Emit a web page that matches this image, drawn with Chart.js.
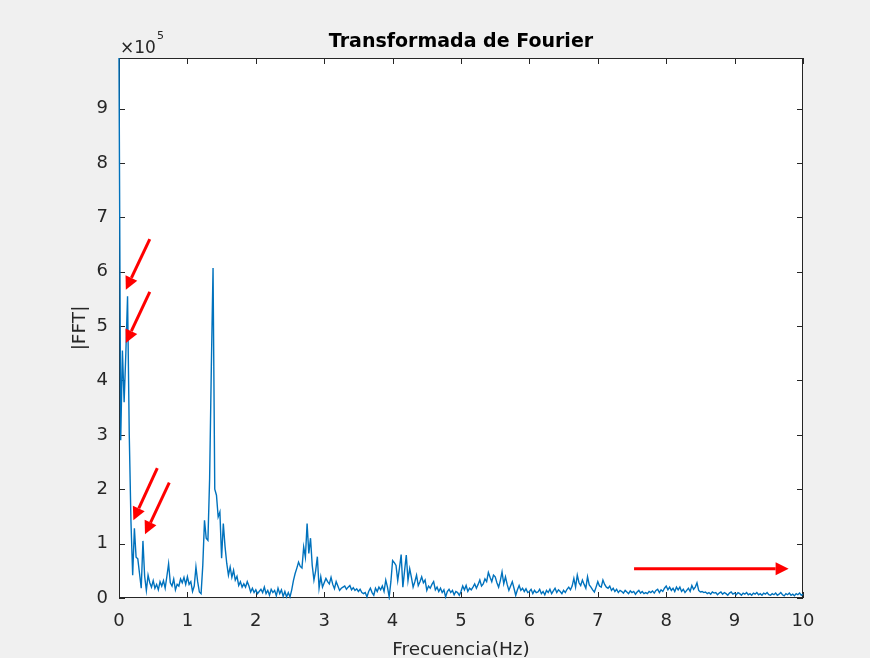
<!DOCTYPE html>
<html>
<head>
<meta charset="utf-8">
<title>Transformada de Fourier</title>
<script src="https://cdn.jsdelivr.net/npm/chart.js@4.4.1/dist/chart.umd.min.js"></script>
<style>
  html, body { margin: 0; padding: 0; background: #f0f0f0; }
  #wrap { width: 870px; height: 658px; }
</style>
</head>
<body>
<div id="wrap"><canvas id="fft" width="870" height="658"></canvas></div>
<script>
// frequency resolution of the spectrum (Hz per bin)
const freqStep = 0.025;

// |FFT| per bin, in units of 1e5
const fftMag = [
  9.93, 2.90, 4.55, 3.60, 4.50, 5.55, 3.00, 1.40, 0.42, 1.28, 0.75, 0.72, 0.45, 0.18, 1.05, 0.40, 0.14, 0.42, 0.28, 0.20,
  0.32, 0.18, 0.25, 0.15, 0.30, 0.22, 0.32, 0.18, 0.40, 0.63, 0.28, 0.22, 0.35, 0.15, 0.25, 0.22, 0.35, 0.28, 0.38, 0.25,
  0.39, 0.25, 0.30, 0.12, 0.22, 0.57, 0.30, 0.11, 0.08, 0.60, 1.43, 1.10, 1.06, 2.20, 4.25, 6.07, 2.00, 1.89, 1.49, 1.58,
  0.73, 1.37, 0.95, 0.64, 0.42, 0.57, 0.38, 0.51, 0.33, 0.40, 0.23, 0.30, 0.20, 0.26, 0.20, 0.30, 0.22, 0.11, 0.18, 0.10,
  0.15, 0.08, 0.12, 0.16, 0.10, 0.20, 0.08, 0.14, 0.05, 0.16, 0.10, 0.14, 0.04, 0.18, 0.08, 0.15, 0.03, 0.12, 0.02, 0.10,
  0.02, 0.15, 0.32, 0.45, 0.55, 0.66, 0.58, 0.55, 0.94, 0.75, 1.37, 0.82, 1.10, 0.60, 0.33, 0.50, 0.76, 0.18, 0.39, 0.20,
  0.28, 0.36, 0.30, 0.26, 0.38, 0.25, 0.17, 0.30, 0.22, 0.14, 0.18, 0.20, 0.22, 0.16, 0.20, 0.23, 0.15, 0.19, 0.14, 0.17,
  0.12, 0.16, 0.10, 0.08, 0.10, 0.02, 0.12, 0.18, 0.10, 0.05, 0.18, 0.12, 0.20, 0.15, 0.22, 0.12, 0.33, 0.20, 0.02, 0.30,
  0.69, 0.65, 0.60, 0.32, 0.55, 0.80, 0.20, 0.50, 0.79, 0.32, 0.54, 0.38, 0.20, 0.30, 0.42, 0.23, 0.30, 0.39, 0.28, 0.33,
  0.14, 0.22, 0.18, 0.25, 0.30, 0.15, 0.20, 0.12, 0.18, 0.10, 0.15, 0.02, 0.12, 0.16, 0.10, 0.14, 0.06, 0.12, 0.10, 0.05,
  0.12, 0.22, 0.15, 0.23, 0.12, 0.18, 0.15, 0.20, 0.26, 0.18, 0.25, 0.33, 0.22, 0.26, 0.35, 0.30, 0.47, 0.38, 0.30, 0.42,
  0.39, 0.28, 0.20, 0.32, 0.48, 0.26, 0.39, 0.25, 0.14, 0.22, 0.30, 0.18, 0.05, 0.15, 0.23, 0.14, 0.18, 0.12, 0.17, 0.10,
  0.12, 0.16, 0.08, 0.14, 0.10, 0.11, 0.16, 0.08, 0.12, 0.06, 0.14, 0.10, 0.16, 0.08, 0.13, 0.18, 0.10, 0.15, 0.12, 0.08,
  0.14, 0.10, 0.16, 0.20, 0.15, 0.22, 0.36, 0.20, 0.42, 0.28, 0.23, 0.33, 0.25, 0.18, 0.39, 0.24, 0.20, 0.15, 0.11, 0.20,
  0.30, 0.22, 0.20, 0.33, 0.25, 0.20, 0.18, 0.22, 0.14, 0.18, 0.12, 0.16, 0.10, 0.14, 0.12, 0.09, 0.14, 0.11, 0.08, 0.13,
  0.10, 0.12, 0.07, 0.11, 0.14, 0.09, 0.12, 0.08, 0.10, 0.08, 0.12, 0.10, 0.13, 0.09, 0.14, 0.16, 0.10, 0.15, 0.12, 0.18,
  0.22, 0.15, 0.20, 0.14, 0.18, 0.12, 0.20, 0.15, 0.20, 0.12, 0.16, 0.10, 0.14, 0.18, 0.12, 0.23, 0.16, 0.20, 0.28, 0.14,
  0.11, 0.12, 0.10, 0.11, 0.08, 0.10, 0.07, 0.11, 0.09, 0.10, 0.06, 0.09, 0.11, 0.07, 0.10, 0.08, 0.05, 0.09, 0.11, 0.07,
  0.09, 0.06, 0.10, 0.08, 0.05, 0.09, 0.07, 0.10, 0.06, 0.08, 0.05, 0.09, 0.07, 0.10, 0.06, 0.08, 0.05, 0.09, 0.07, 0.10,
  0.06, 0.05, 0.08, 0.06, 0.09, 0.05, 0.07, 0.10, 0.06, 0.04, 0.08, 0.06, 0.09, 0.05, 0.07, 0.04, 0.08, 0.06, 0.09, 0.05,
  0.07
];

const xTicks = [0, 1, 2, 3, 4, 5, 6, 7, 8, 9, 10];
const yTicks = [0, 1, 2, 3, 4, 5, 6, 7, 8, 9];

// red arrows, [tail, tip] in (Hz, x1e5)
const arrows = [
  [[0.45, 6.60], [0.10, 5.67]],
  [[0.45, 5.63], [0.10, 4.69]],
  [[0.56, 2.39], [0.21, 1.43]],
  [[0.735, 2.12], [0.38, 1.17]],
  [[7.53, 0.54], [9.79, 0.54]]
];

const points = fftMag.map((v, i) => ({ x: i * freqStep, y: v }));

const FONT = '"DejaVu Sans", Verdana, sans-serif';
const AXIS = '#262626';

function drawArrow(ctx, x0, y0, x1, y1) {
  const ang = Math.atan2(y1 - y0, x1 - x0);
  const headLen = 13, headW = 6.5;
  const bx = x1 - headLen * Math.cos(ang), by = y1 - headLen * Math.sin(ang);
  ctx.strokeStyle = '#ff0000';
  ctx.fillStyle = '#ff0000';
  ctx.lineWidth = 3;
  ctx.beginPath();
  ctx.moveTo(x0, y0);
  ctx.lineTo(bx, by);
  ctx.stroke();
  ctx.beginPath();
  ctx.moveTo(x1, y1);
  ctx.lineTo(bx + headW * Math.sin(ang), by - headW * Math.cos(ang));
  ctx.lineTo(bx - headW * Math.sin(ang), by + headW * Math.cos(ang));
  ctx.closePath();
  ctx.fill();
}

const matlabAxes = {
  id: 'matlabAxes',
  beforeDraw(chart) {
    const { ctx, chartArea: a } = chart;
    ctx.save();
    ctx.fillStyle = '#f0f0f0';
    ctx.fillRect(0, 0, chart.width, chart.height);
    ctx.fillStyle = '#ffffff';
    ctx.fillRect(a.left, a.top, a.right - a.left, a.bottom - a.top);
    ctx.restore();
  },
  beforeDatasetsDraw(chart) {
    // box and inward ticks on all four sides, under the trace
    const { ctx, chartArea: a, scales } = chart;
    ctx.save();
    ctx.strokeStyle = AXIS;
    ctx.lineWidth = 1;
    ctx.strokeRect(a.left + 0.5, a.top + 0.5, a.right - a.left - 1, a.bottom - a.top - 1);
    ctx.beginPath();
    xTicks.forEach(v => {
      const px = Math.round(scales.x.getPixelForValue(v)) + 0.5;
      ctx.moveTo(px, a.bottom); ctx.lineTo(px, a.bottom - 6);
      ctx.moveTo(px, a.top); ctx.lineTo(px, a.top + 6);
    });
    yTicks.forEach(v => {
      const py = Math.round(scales.y.getPixelForValue(v)) + 0.5;
      ctx.moveTo(a.left, py); ctx.lineTo(a.left + 6, py);
      ctx.moveTo(a.right, py); ctx.lineTo(a.right - 6, py);
    });
    ctx.stroke();
    ctx.restore();
  },
  afterDatasetsDraw(chart) {
    const { ctx, chartArea: a, scales } = chart;
    const xs = scales.x, ys = scales.y;
    ctx.save();

    arrows.forEach(([t, h]) => {
      drawArrow(ctx, xs.getPixelForValue(t[0]), ys.getPixelForValue(t[1]),
                xs.getPixelForValue(h[0]), ys.getPixelForValue(h[1]));
    });

    // title, axis labels and exponent
    const cx = (a.left + a.right) / 2;
    ctx.fillStyle = '#000000';
    ctx.textAlign = 'center';
    ctx.textBaseline = 'alphabetic';
    ctx.font = 'bold 19px ' + FONT;
    ctx.fillText('Transformada de Fourier', cx, 47);

    ctx.fillStyle = AXIS;
    ctx.font = '18.5px ' + FONT;
    ctx.fillText('Frecuencia(Hz)', cx, 655);

    ctx.save();
    ctx.translate(85, (a.top + a.bottom) / 2);
    ctx.rotate(-Math.PI / 2);
    ctx.fillText('|FFT|', 0, 0);
    ctx.restore();

    ctx.textAlign = 'left';
    ctx.font = '17px ' + FONT;
    ctx.fillText('\u00d710', a.left + 1, 53);
    const w = ctx.measureText('\u00d710').width;
    ctx.font = '11px ' + FONT;
    ctx.fillText('5', a.left + 1 + w + 1, 39);

    ctx.restore();
  }
};

new Chart(document.getElementById('fft'), {
  type: 'line',
  data: {
    datasets: [{
      data: points,
      borderColor: '#0072bd',
      borderWidth: 1.4,
      pointRadius: 0,
      tension: 0,
      fill: false,
      clip: 2
    }]
  },
  options: {
    responsive: false,
    animation: false,
    events: [],
    layout: { padding: { top: 58, right: 67, bottom: 0, left: 0 } },
    plugins: { legend: { display: false }, tooltip: { enabled: false } },
    scales: {
      x: {
        type: 'linear',
        min: 0,
        max: 10,
        afterBuildTicks: s => { s.ticks = xTicks.map(v => ({ value: v })); },
        afterFit: s => { s.height = 60; },
        grid: { display: false },
        border: { display: false },
        ticks: { color: AXIS, font: { family: FONT, size: 18 }, padding: 5, maxRotation: 0, autoSkip: false }
      },
      y: {
        type: 'linear',
        min: 0,
        max: Math.max(...fftMag),
        afterBuildTicks: s => { s.ticks = yTicks.map(v => ({ value: v })); },
        afterFit: s => { s.width = 119; },
        grid: { display: false },
        border: { display: false },
        ticks: { color: AXIS, font: { family: FONT, size: 18 }, padding: 3 }
      }
    }
  },
  plugins: [matlabAxes]
});
</script>
</body>
</html>
